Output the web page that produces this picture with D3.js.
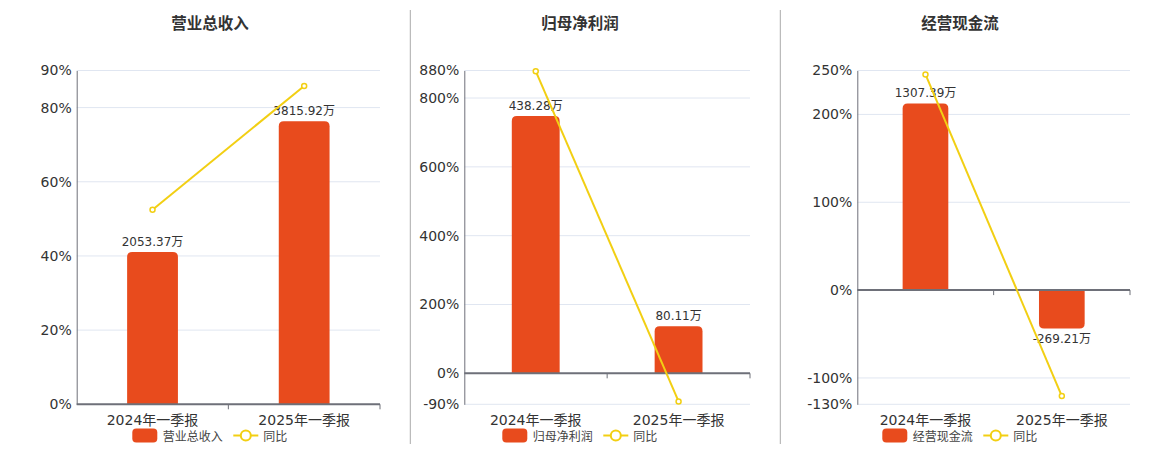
<!DOCTYPE html>
<html>
<head>
<meta charset="utf-8">
<script src="https://cdn.jsdelivr.net/npm/d3@7"></script>
<style>
  body { margin: 0; background: #fff; }
  svg { display: block; font-family: "DejaVu Sans", "Noto Sans CJK SC", sans-serif; }
</style>
</head>
<body>
<svg id="chart" width="1160" height="450"></svg>
<script>
const categories = ["2024年一季报", "2025年一季报"];
const panelTitles = ["营业总收入", "归母净利润", "经营现金流"];
const amounts = [[2053.37, 3815.92], [438.28, 80.11], [1307.39, -269.21]];
const yoyPct = [[52.45, 85.84], [878, -81.72], [245.5, -120.59]];
const pctTicks = [
    [0, 20, 40, 60, 80, 90],
    [-90, 0, 200, 400, 600, 800, 880],
    [-130, -100, 0, 100, 200, 250]
];
// value of the hidden amount axis at the top of the percent axis
const barAxisMax = [4500, 516, 1538];

const BAR_COLOR = "#E84B1D";
const LINE_COLOR = "#F2CF13";
const TEXT_COLOR = "#333";

const svg = d3.select("#chart");

// plot areas measured per panel
const panels = [
    {left: 76.7, right: 380, center: 210},
    {left: 464.3, right: 750, center: 580},
    {left: 857.3, right: 1130, center: 960}
];
const plotTop = 70.5, plotBottom = 404.3;

[410.3, 780.3].forEach(x => {
    svg.append("line")
        .attr("x1", x).attr("x2", x)
        .attr("y1", 10).attr("y2", 444)
        .attr("stroke", "#aaa")
        .attr("stroke-width", 1);
});

function barPath(x, w, y0, y1, r) {
    // rounded at the far end of the bar (top for positive, bottom for negative)
    const h = Math.abs(y1 - y0);
    r = Math.min(r, h, w / 2);
    if (y1 < y0) {
        return `M${x},${y0}V${y1 + r}Q${x},${y1} ${x + r},${y1}H${x + w - r}Q${x + w},${y1} ${x + w},${y1 + r}V${y0}Z`;
    }
    return `M${x},${y0}V${y1 - r}Q${x},${y1} ${x + r},${y1}H${x + w - r}Q${x + w},${y1} ${x + w},${y1 - r}V${y0}Z`;
}

panels.forEach((p, i) => {
    const g = svg.append("g");
    const ticks = pctTicks[i];
    const pMin = ticks[0], pMax = ticks[ticks.length - 1];

    const yScale = d3.scaleLinear().domain([pMin, pMax]).range([plotBottom, plotTop]);
    const bMax = barAxisMax[i];
    const bMin = bMax * pMin / pMax;
    const barScale = d3.scaleLinear().domain([bMin, bMax]).range([plotBottom, plotTop]);

    const xScale = d3.scaleBand()
        .domain(categories)
        .range([p.left, p.right])
        .paddingInner(0)
        .paddingOuter(0);

    // title
    g.append("text")
        .attr("x", p.center)
        .attr("y", 29)
        .attr("text-anchor", "middle")
        .attr("font-size", 15.5)
        .attr("font-weight", "bold")
        .attr("fill", TEXT_COLOR)
        .text(panelTitles[i]);

    // grid lines
    g.selectAll(".grid")
        .data(ticks)
        .enter()
        .append("line")
            .attr("x1", p.left)
            .attr("x2", p.right)
            .attr("y1", d => yScale(d))
            .attr("y2", d => yScale(d))
            .attr("stroke", "#E0E6F1")
            .attr("stroke-width", 1);

    // y axis
    const yAxis = g.append("g")
        .attr("transform", "translate(" + p.left + ",0)")
        .call(d3.axisLeft(yScale).tickValues(ticks).tickSize(0).tickPadding(5).tickFormat(d => d + "%"));
    yAxis.select(".domain").attr("stroke", "#6E7079").attr("stroke-width", 1);
    yAxis.selectAll("text")
        .attr("font-size", 14)
        .attr("fill", TEXT_COLOR)
        .attr("font-family", "DejaVu Sans, sans-serif");

    // bars
    const bw = xScale.bandwidth() * 0.335;
    const y0 = barScale(0);
    g.selectAll(".bar")
        .data(amounts[i])
        .enter()
        .append("path")
            .attr("d", (d, j) => barPath(xScale(categories[j]) + (xScale.bandwidth() - bw) / 2, bw, y0, barScale(d), 5))
            .attr("fill", BAR_COLOR);

    // bar labels
    g.selectAll(".blabel")
        .data(amounts[i])
        .enter()
        .append("text")
            .attr("x", (d, j) => xScale(categories[j]) + xScale.bandwidth() / 2)
            .attr("y", d => d >= 0 ? barScale(d) - 6 : barScale(d) + 14)
            .attr("text-anchor", "middle")
            .attr("font-size", 12)
            .attr("fill", TEXT_COLOR)
            .text(d => d.toFixed(2) + "万");

    // x axis on zero
    g.append("line")
        .attr("x1", p.left).attr("x2", p.right)
        .attr("y1", y0).attr("y2", y0)
        .attr("stroke", "#6E7079")
        .attr("stroke-width", 2);
    g.selectAll(".xtick")
        .data(categories)
        .enter()
        .append("line")
            .attr("x1", d => xScale(d) + xScale.bandwidth())
            .attr("x2", d => xScale(d) + xScale.bandwidth())
            .attr("y1", y0)
            .attr("y2", y0 + 5)
            .attr("stroke", "#6E7079")
            .attr("stroke-width", 1);
    g.selectAll(".xlabel")
        .data(categories)
        .enter()
        .append("text")
            .attr("x", d => xScale(d) + xScale.bandwidth() / 2)
            .attr("y", 425)
            .attr("text-anchor", "middle")
            .attr("font-size", 14)
            .attr("fill", TEXT_COLOR)
            .text(d => d);

    // yoy line
    const line = d3.line()
        .x((d, j) => xScale(categories[j]) + xScale.bandwidth() / 2)
        .y(d => yScale(d));
    g.append("path")
        .datum(yoyPct[i])
        .attr("d", line)
        .attr("fill", "none")
        .attr("stroke", LINE_COLOR)
        .attr("stroke-width", 2);
    g.selectAll(".pt")
        .data(yoyPct[i])
        .enter()
        .append("circle")
            .attr("cx", (d, j) => xScale(categories[j]) + xScale.bandwidth() / 2)
            .attr("cy", d => yScale(d))
            .attr("r", 2.5)
            .attr("fill", "#fff")
            .attr("stroke", LINE_COLOR)
            .attr("stroke-width", 1.5);

    // legend
    const lx = p.center - 77.7;
    const lg = g.append("g").attr("transform", "translate(" + lx + ",428.5)");
    lg.append("rect")
        .attr("width", 25).attr("height", 14)
        .attr("rx", 4)
        .attr("fill", BAR_COLOR);
    lg.append("text")
        .attr("x", 30.5).attr("y", 12)
        .attr("font-size", 12)
        .attr("fill", "#444")
        .text(panelTitles[i]);
    lg.append("line")
        .attr("x1", 101).attr("x2", 126)
        .attr("y1", 7).attr("y2", 7)
        .attr("stroke", LINE_COLOR)
        .attr("stroke-width", 2);
    lg.append("circle")
        .attr("cx", 113.5).attr("cy", 7)
        .attr("r", 5)
        .attr("fill", "#fff")
        .attr("stroke", LINE_COLOR)
        .attr("stroke-width", 2);
    lg.append("text")
        .attr("x", 131).attr("y", 12)
        .attr("font-size", 12)
        .attr("fill", "#444")
        .text("同比");
});
</script>
</body>
</html>
